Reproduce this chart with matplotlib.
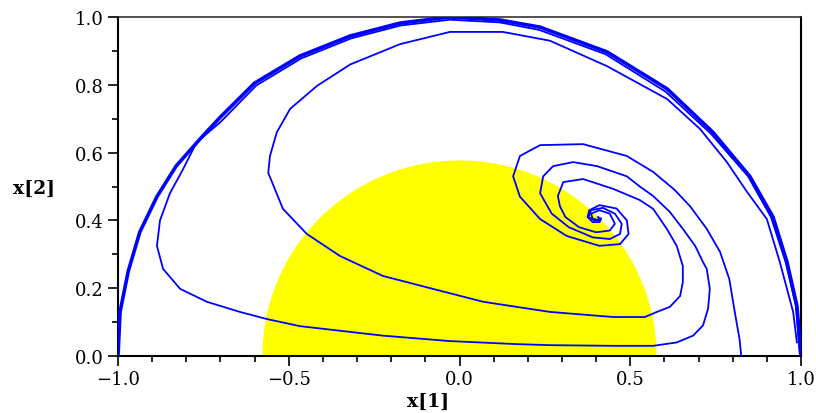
import matplotlib
matplotlib.use("Agg")
import matplotlib.pyplot as plt
from matplotlib.patches import Wedge
from matplotlib.ticker import MultipleLocator, FuncFormatter

# boundary orbit (thick)
outer_x = [1.0, 0.988, 0.959, 0.918, 0.85, 0.742, 0.608, 0.432, 0.236, 0.119, -0.028,
           -0.174, -0.32, -0.467, -0.6, -0.70, -0.76, -0.83, -0.886, -0.936, -0.97, -0.994, -1.0]
outer_y = [0.0, 0.148, 0.277, 0.41, 0.53, 0.66, 0.788, 0.897, 0.97, 0.991, 1.0,
           0.982, 0.944, 0.885, 0.805, 0.705, 0.64, 0.56, 0.47, 0.366, 0.25, 0.13, 0.0]

# trajectory starting just above (1, 0), hugging the circle
traj_a_x = [0.997, 0.985, 0.955, 0.912, 0.845, 0.737, 0.603, 0.428, 0.233, 0.118, -0.028,
            -0.172, -0.317, -0.463, -0.595, -0.70, -0.77, -0.81, -0.848, -0.877, -0.886,
            -0.868, -0.818, -0.74, -0.643, -0.564, -0.467, -0.224, -0.028, 0.168, 0.265,
            0.45, 0.567, 0.636, 0.684, 0.713, 0.728, 0.733, 0.724, 0.713, 0.69, 0.654,
            0.616, 0.567, 0.528, 0.49, 0.403, 0.333, 0.274, 0.245, 0.236, 0.27, 0.32,
            0.39, 0.44, 0.47, 0.475, 0.455, 0.42, 0.385, 0.378, 0.395, 0.412]
traj_a_y = [0.0, 0.148, 0.277, 0.41, 0.53, 0.655, 0.78, 0.89, 0.962, 0.984, 0.992,
            0.975, 0.937, 0.878, 0.798, 0.69, 0.63, 0.55, 0.48, 0.40, 0.325,
            0.257, 0.198, 0.16, 0.13, 0.109, 0.088, 0.06, 0.044, 0.035, 0.032,
            0.03, 0.03, 0.04, 0.06, 0.09, 0.14, 0.198, 0.257, 0.277, 0.325, 0.375,
            0.425, 0.472, 0.50, 0.53, 0.56, 0.572, 0.56, 0.53, 0.48, 0.42, 0.38,
            0.35, 0.345, 0.36, 0.39, 0.42, 0.437, 0.43, 0.41, 0.40, 0.402]

# trajectory starting near (0.99, 0.045)
traj_b_x = [0.988, 0.977, 0.938, 0.9, 0.842, 0.783, 0.704, 0.608, 0.432, 0.265, 0.127,
            -0.028, -0.174, -0.32, -0.417, -0.496, -0.535, -0.555, -0.56, -0.549, -0.517,
            -0.447, -0.35, -0.224, -0.078, 0.069, 0.265, 0.45, 0.543, 0.578, 0.616, 0.646,
            0.654, 0.654, 0.636, 0.607, 0.567, 0.528, 0.45, 0.362, 0.304, 0.288, 0.294,
            0.31, 0.35, 0.40, 0.44, 0.455, 0.44, 0.41, 0.385, 0.39, 0.41]
traj_b_y = [0.04, 0.13, 0.277, 0.404, 0.484, 0.572, 0.67, 0.758, 0.855, 0.93, 0.956,
            0.956, 0.92, 0.86, 0.797, 0.729, 0.66, 0.59, 0.54, 0.513, 0.434,
            0.36, 0.295, 0.236, 0.198, 0.16, 0.13, 0.115, 0.115, 0.13, 0.145, 0.177,
            0.218, 0.265, 0.325, 0.375, 0.434, 0.46, 0.493, 0.522, 0.513, 0.472, 0.442,
            0.41, 0.38, 0.365, 0.37, 0.39, 0.42, 0.43, 0.42, 0.405, 0.40]

# trajectory starting on the axis at x = 0.82
traj_c_x = [0.825, 0.82, 0.806, 0.79, 0.763, 0.724, 0.675, 0.63, 0.567, 0.49, 0.362,
            0.236, 0.177, 0.157, 0.177, 0.236, 0.314, 0.41, 0.47, 0.495, 0.49, 0.46,
            0.41, 0.38, 0.375, 0.39, 0.41, 0.415, 0.405, 0.41]
traj_c_y = [0.0, 0.05, 0.13, 0.227, 0.307, 0.375, 0.442, 0.49, 0.543, 0.59, 0.625,
            0.622, 0.59, 0.53, 0.47, 0.404, 0.354, 0.325, 0.33, 0.36, 0.40, 0.435,
            0.445, 0.43, 0.41, 0.395, 0.395, 0.405, 0.41, 0.402]

disk_radius = 0.577

fig = plt.figure(figsize=(8.16, 4.14), dpi=100)
ax = fig.add_axes([118 / 816, 1 - 357 / 414, 683 / 816, 339 / 414])

ax.add_patch(Wedge((0, 0), disk_radius, 0, 180, facecolor="#ffff00", edgecolor="none", zorder=1))

thin = dict(color="#0000ff", lw=1.3, zorder=3)
ax.plot(traj_a_x, traj_a_y, **thin)
ax.plot(traj_b_x, traj_b_y, **thin)
ax.plot(traj_c_x, traj_c_y, **thin)
ax.plot(outer_x, outer_y, color="#0000ff", lw=2.6, zorder=4)

ax.set_xlim(-1, 1)
ax.set_ylim(0, 1)
ax.xaxis.set_major_locator(MultipleLocator(0.5))
ax.xaxis.set_minor_locator(MultipleLocator(0.1))
ax.yaxis.set_major_locator(MultipleLocator(0.2))
ax.yaxis.set_minor_locator(MultipleLocator(0.1))

fmt = FuncFormatter(lambda v, pos: f"{v:.1f}".replace("-", "\u2212"))
ax.xaxis.set_major_formatter(fmt)
ax.yaxis.set_major_formatter(fmt)
ax.tick_params(which="major", direction="out", length=7, width=1.2, labelsize=13, pad=3)
ax.tick_params(which="minor", direction="out", length=4, width=1.2)
plt.setp(ax.get_xticklabels(), family="DejaVu Serif")
plt.setp(ax.get_yticklabels(), family="DejaVu Serif")

for side in ["left", "bottom", "right"]:
    ax.spines[side].set_linewidth(1.5)
ax.spines["top"].set_linewidth(1.2)
ax.spines["top"].set_color("#333333")

fig.text(428 / 816, 1 - 402 / 414, "x[1]", family="DejaVu Serif", weight="bold",
         fontsize=13.5, ha="center", va="center")
fig.text(34 / 816, 1 - 189 / 414, "x[2]", family="DejaVu Serif", weight="bold",
         fontsize=13.5, ha="center", va="center")

fig.savefig("out.png", dpi=100)
